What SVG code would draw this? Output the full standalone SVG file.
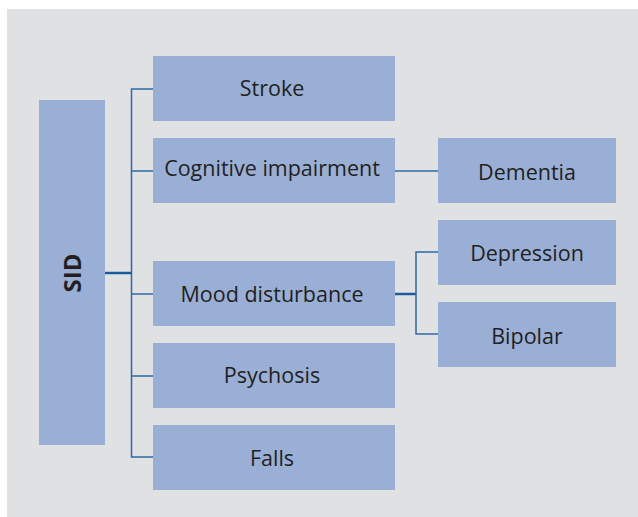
<svg xmlns="http://www.w3.org/2000/svg" width="638" height="517" viewBox="0 0 638 517">
<style>
.box{fill:#9aafd5}
.t{font-family:"Open Sans","Noto Sans",sans-serif;font-size:21.5px;fill:#231f20;text-anchor:middle}
.b{font-weight:bold;font-size:24px}
.ln{stroke:#2b6aa6;stroke-width:1.5;fill:none}
.lk{stroke:#1b5c9c;stroke-width:2.5;fill:none}
</style>
<rect x="0" y="0" width="638" height="517" fill="#ffffff"/>
<rect x="7" y="9" width="631" height="508" fill="#e0e1e3"/>
<g id="connectors">
<path class="ln" d="M153 89 H131.5 V457 H153"/>
<path class="ln" d="M131.5 171 H153 M131.5 294 H153 M131.5 376 H153"/>
<path class="lk" d="M105 273 H131.5"/>
<path class="ln" d="M395 171 H438"/>
<path class="lk" d="M395 294 H416"/>
<path class="ln" d="M438 252 H416 V334 H438"/>
</g>
<g id="sid"><rect class="box" x="39" y="100" width="66" height="345"/><text class="t b" transform="translate(80.5 273) rotate(-90)">SID</text></g>
<g id="stroke"><rect class="box" x="153" y="56" width="242" height="65"/><text class="t" x="272" y="96">Stroke</text></g>
<g id="cognitive"><rect class="box" x="153" y="138" width="242" height="65"/><text class="t" x="272" y="176">Cognitive impairment</text></g>
<g id="mood"><rect class="box" x="153" y="261" width="242" height="65"/><text class="t" x="272" y="302">Mood disturbance</text></g>
<g id="psychosis"><rect class="box" x="153" y="343" width="242" height="65"/><text class="t" x="272" y="383">Psychosis</text></g>
<g id="falls"><rect class="box" x="153" y="425" width="242" height="65"/><text class="t" x="272" y="466">Falls</text></g>
<g id="dementia"><rect class="box" x="438" y="138" width="178" height="65"/><text class="t" x="527" y="180">Dementia</text></g>
<g id="depression"><rect class="box" x="438" y="220" width="178" height="65"/><text class="t" x="527" y="261">Depression</text></g>
<g id="bipolar"><rect class="box" x="438" y="302" width="178" height="65"/><text class="t" x="527" y="344">Bipolar</text></g>
</svg>
